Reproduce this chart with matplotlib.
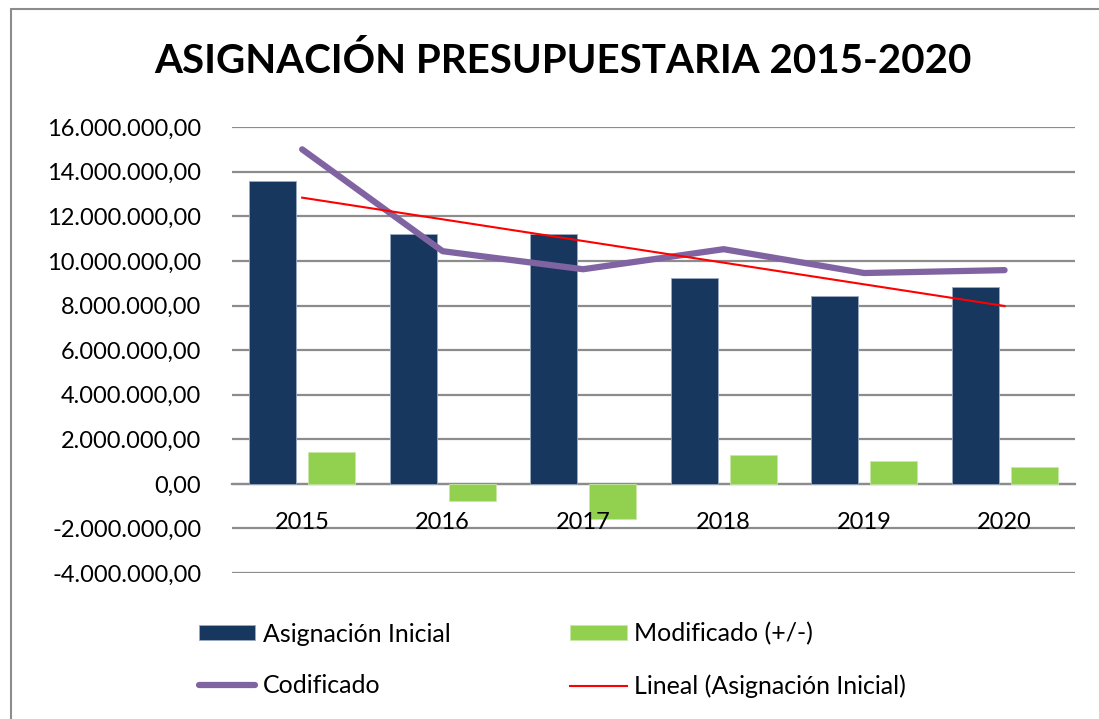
import numpy as np
import matplotlib
matplotlib.use('Agg')
import matplotlib.pyplot as plt
from matplotlib.patches import Rectangle
from matplotlib.ticker import FuncFormatter

plt.rcParams['font.family'] = ['Lato', 'DejaVu Sans']

years = ['2015', '2016', '2017', '2018', '2019', '2020']
inicial = [13580000, 11200000, 11200000, 9230000, 8430000, 8830000]
modificado = [1430000, -760000, -1570000, 1300000, 1030000, 760000]
codificado = [15010000, 10440000, 9630000, 10530000, 9460000, 9590000]

x = np.arange(len(years))

# tendencia lineal de la asignacion inicial
coef = np.polyfit(x, inicial, 1)
tendencia = np.polyval(coef, x)

fig = plt.figure(figsize=(10.99, 7.19), dpi=100)
ax = fig.add_axes([0.211, 0.203, 0.767, 0.620])

w = 0.335
b1 = ax.bar(x - 0.21, inicial, w, color='#17375E', edgecolor='#9AAAC0', linewidth=0.6,
            label='Asignación Inicial', zorder=3)
b2 = ax.bar(x + 0.21, modificado, w, color='#92D050', edgecolor='#C8E8A8', linewidth=0.6,
            label='Modificado (+/-)', zorder=3)
l1, = ax.plot(x, codificado, color='#8064A2', lw=4.5, solid_capstyle='round',
              label='Codificado', zorder=4)
l2, = ax.plot(x, tendencia, color='#FF0000', lw=1.5, label='Lineal (Asignación Inicial)', zorder=5)

ax.set_xlim(-0.5, 5.5)
ax.set_ylim(-4000000, 16000000)
ax.set_yticks(np.arange(-4000000, 16000001, 2000000))
ax.yaxis.set_major_formatter(FuncFormatter(
    lambda v, p: '{:,.2f}'.format(v).replace(',', 'X').replace('.', ',').replace('X', '.')))
ax.grid(axis='y', color='#8C8C8C', lw=1.6, zorder=0)
ax.set_axisbelow(True)
for s in ['top', 'right', 'left']:
    ax.spines[s].set_visible(False)
ax.spines['bottom'].set_position(('data', 0))
ax.spines['bottom'].set_color('#8C8C8C')
ax.spines['bottom'].set_linewidth(1.6)
ax.set_xticks(x)
ax.set_xticklabels([])
ax.tick_params(axis='x', length=0)
ax.tick_params(axis='y', length=0, pad=22, labelsize=17, colors='black')

# etiquetas de categoria encima de las barras, como en Excel
for i, yr in enumerate(years):
    ax.annotate(yr, (i, 0), xytext=(0, -28), textcoords='offset pixels',
                ha='center', va='top', fontsize=17, zorder=10, annotation_clip=False)

fig.text(0.512, 0.915, 'ASIGNACIÓN PRESUPUESTARIA 2015-2020', ha='center', va='center',
         fontsize=29, fontweight='bold')

leg_kw = dict(loc='center left', frameon=False, fontsize=18, handlelength=2.25,
              handleheight=0.56, handletextpad=0.3, labelspacing=1.15, borderpad=0,
              borderaxespad=0)
leg1 = fig.legend([b1, l1], ['Asignación Inicial', 'Codificado'],
                  bbox_to_anchor=(0.181, 0.082), **leg_kw)
leg2 = fig.legend([b2, l2], ['Modificado (+/-)', 'Lineal (Asignación Inicial)'],
                  bbox_to_anchor=(0.519, 0.082), **leg_kw)

fig.patches.append(Rectangle((0.010, -0.01), 1.0, 0.997, transform=fig.transFigure,
                             fill=False, edgecolor='#8C8C8C', lw=1.5))

fig.savefig('out.png', dpi=100)
